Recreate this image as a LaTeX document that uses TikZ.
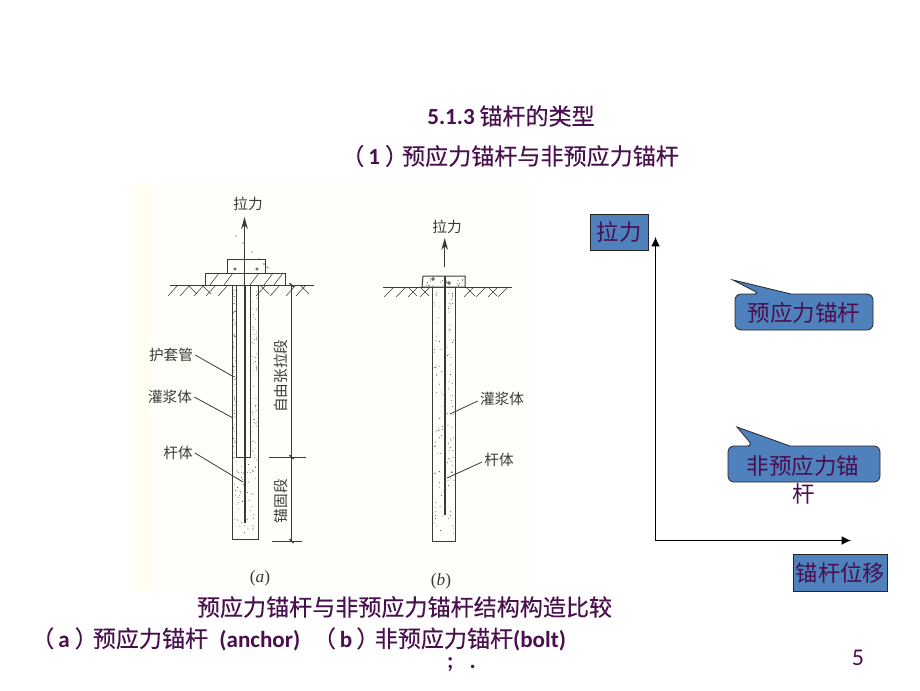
\documentclass[tikz,border=0pt]{standalone}
\usepackage{fontspec}
\setmainfont{Carlito}
\newfontfamily\cjk{Noto Sans CJK SC}
\newfontfamily\cjkb[FakeBold=0.25]{Noto Sans CJK SC}
\newfontfamily\latser{Liberation Serif}
\usetikzlibrary{arrows.meta}
\definecolor{ttl}{HTML}{4A0F4E}
\definecolor{boxb}{HTML}{4F81BD}
\definecolor{ink}{HTML}{3A3A3A}
\definecolor{paper}{HTML}{FFFEF9}
\newcommand{\bigf}{\fontsize{17.3}{20}\selectfont}
\newcommand{\smf}{\fontsize{11}{13}\selectfont\cjk}
\newcommand{\Zh}[1]{{\normalfont\cjkb #1}}
\newcommand{\La}[1]{{\normalfont\bfseries #1}}
\newcommand{\Hs}[1]{\hspace{#1pt}}
\tikzset{
 ttltext/.style={inner sep=0,text=ttl,font=\bigf},
 lbl/.style={inner sep=0,text=ink,font=\smf},
 inkline/.style={draw=ink,line width=.75pt},
 leader/.style={draw=ink,line width=.6pt},
 bluebox/.style={draw=black!85,fill=boxb,line width=.6pt,text=ttl,inner sep=0,font=\fontsize{16.7}{20}\selectfont\cjk},
 callout/.style={draw=black!85,fill=boxb,line width=.6pt,rounded corners=4.5},
 ctext/.style={inner sep=0,text=ttl,font=\fontsize{16.9}{20}\selectfont\cjk},
 axisl/.style={draw=black,line width=.8pt,-{Latex[length=7,width=6.5]}},
 rod/.style={draw=ink,line width=1.5pt},
 hatchl/.style={draw=ink,line width=.4pt},
 spot/.style={fill=ink,draw=none},
 figtag/.style={inner sep=0,text=ink,font=\fontsize{13}{15}\selectfont\latser},
}
\begin{document}
\begin{tikzpicture}[x=.75pt,y=-.75pt]
\useasboundingbox[fill=white] (0,0) rectangle (920,690);
\fill[paper] (134,183) rectangle (530,591);
\fill[yellow!6] (134,183) rectangle (150,591);
% titles
\node[ttltext] (t1) at (511,116) {\La{5.1.3}\Hs{3.5}\Zh{锚杆的类型}};
\node[ttltext,anchor=west] (t2) at (341,156) {\Zh{（}\Hs{3}\La{1}\Hs{3.75}\Zh{）}\Hs{-4.5}\Zh{预应力锚杆与非预应力锚杆}};
\node[ttltext] (t3) at (404.5,607) {\Zh{预应力锚杆与非预应力锚杆结构构造比较}};
\node[ttltext,anchor=west] (t4) at (31,639) {\Zh{（}\Hs{3}\La{a}\Hs{3.75}\Zh{）}\Hs{-3.75}\Zh{预应力锚杆}\Hs{8.5}\La{(anchor)}\Hs{9.5}\Zh{（}\Hs{3}\La{b}\Hs{3}\Zh{）}\Hs{-3.5}\Zh{非预应力锚杆}\La{(bolt)}};
\node[ttltext] (t5) at (461.5,665) {\La{;}\Hs{12}\La{.}};
\node[inner sep=0,text=ttl,font=\fontsize{18}{20}\selectfont] (pg) at (858,658) {5};

% ---------- figure (a)
\coordinate (aTop) at (244.5,217);
\coordinate (aBot) at (244.5,523);
\draw[inkline] (227,259) rectangle (265,273);
\draw[inkline] (205,273) rectangle (285.5,285);
\foreach \x in {210,224,250,264,274}
  \draw[hatchl] (\x,285) -- (\x+9,273);
\draw[inkline] (170,285) -- (314,285);
\foreach \x in {178,190,204,216,228,266,280,296,306}
  \draw[hatchl] (\x,285) -- (\x-10,296);
\foreach \x in {188,202,260,300}
  \draw[hatchl] (\x,285) -- (\x+9,294);
\draw[inkline] (232,285) -- (232,539) -- (258,539) -- (258,285);
\draw[inkline] (236,285) -- (236,457) -- (250,457) -- (250,285);
\draw[draw=ink,line width=.7pt,-{Stealth[length=9,width=5]}] (244.5,285) -- (aTop);
\draw[rod] (244.5,285) -- (aBot);
\foreach \x/\y in {236,264,243,267,252,264,259,268} \fill[spot] (\x,\y) circle (.6);
\draw[ink,line width=.4pt] (235,269) circle (1.2) (257,269) circle (1.2);
% dots a
\pgfmathsetseed{7}
\foreach \i in {1,...,60}{\pgfmathsetmacro\yy{rnd*170+290}\fill[spot] ({233+rnd*2.5},\yy) circle (.45);\pgfmathsetmacro\yb{rnd*170+290}\fill[spot] ({252+rnd*5},\yb) circle (.4);}
\foreach \i in {1,...,55}{\pgfmathsetmacro\yy{rnd*75+461}\fill[spot] ({234+rnd*22},\yy) circle (.45);}
% dims a
\draw[inkline,line width=.6pt] (291.5,285) -- (291.5,541);
\draw[inkline,line width=.6pt] (269,457) -- (306,457);
\draw[inkline,line width=.6pt] (272,541) -- (302,541);
\foreach \y in {285,457,541} \draw[ink,line width=1pt] (289.5,\y-2) -- (293.5,\y+2);
\node[lbl,rotate=90] (zy) at (281,376) {自由张拉段};
\node[lbl,rotate=90] (mg) at (281,501) {锚固段};
\node[lbl] (af) at (248,204) {拉力};
\node[lbl] (ah) at (171,355) {护套管};
\node[lbl] (ag) at (170,397) {灌浆体};
\node[lbl] (ar) at (178,453) {杆体};
\coordinate (ahe) at (234,377);
\coordinate (age) at (233,418);
\coordinate (are) at (243,482);
\draw[leader] (ah.east) ++(2,0) -- (ahe);
\draw[leader] (ag.east) ++(2,0) -- (age);
\draw[leader] (ar.east) ++(2,0) -- (are);
\node[figtag] (la) at (260,578) {(\textit{a})};

% ---------- figure (b)
\coordinate (bTop) at (444.7,238);
\coordinate (bBot) at (444.7,515);
\draw[inkline] (383,287) -- (512,287);
\foreach \x in {394,406,418,430,474,486,498,508}
  \draw[hatchl] (\x,287) -- (\x-10,297);
\foreach \x in {408,420,466,488}
  \draw[hatchl] (\x,287) -- (\x+9,296);
\draw[inkline,fill=paper] (422,287) -- (423,276) -- (465,276) -- (465,287) -- cycle;
\draw[inkline] (432,287) -- (432,541) -- (455,541) -- (455,287);
\draw[rod] (444.7,276) -- (bBot);
\draw[draw=ink,line width=.7pt,-{Stealth[length=9,width=5]}] (444.7,267) -- (bTop);
\pgfmathsetseed{11}
\foreach \i in {1,...,60}{\pgfmathsetmacro\yy{rnd*245+292}\fill[spot] ({434+rnd*9},\yy) circle (.45);\pgfmathsetmacro\yb{rnd*245+292}\fill[spot] ({447+rnd*7},\yb) circle (.45);}
\foreach \i in {1,...,18}{\pgfmathsetmacro\yy{rnd*8+278}\fill[spot] ({425+rnd*38},\yy) circle (.5);}
\draw[ink,line width=.5pt] (433,279) circle (1.3) (449,283) circle (1.3);
\node[lbl] (bf) at (447,227) {拉力};
\node[lbl] (bg) at (502,399) {灌浆体};
\node[lbl] (br) at (499,460) {杆体};
\coordinate (bge) at (450,414);
\coordinate (bre) at (447,478);
\draw[leader] (bg.west) ++(-2,2) -- (bge);
\draw[leader] (br.west) ++(-2,2) -- (bre);
\node[figtag] (lb) at (441,581) {(\textit{b})};

% ---------- chart
\coordinate (org) at (655.5,540.5);
\coordinate (yend) at (655.5,237);
\coordinate (xend) at (851,540.5);
\draw[axisl] (org) -- (yend);
\draw[axisl] (org) -- (xend);
\node[bluebox,minimum width=43.5,minimum height=27] (fbox) at (619,232) {拉力};
\node[bluebox,minimum width=71,minimum height=27.5] (dbox) at (840.5,573) {锚杆位移};
\draw[callout] (735,312) -- (735,294) -- (760,294) [sharp corners] -- (733,280) -- (791,294) [rounded corners=4.5] -- (873,294) -- (873,330) -- (735,330) -- cycle;
\node[ctext] (c1) at (804,313) {预应力锚杆};
\draw[callout] (728,464) -- (728,446) -- (753,446) [sharp corners] -- (737,427) -- (790,446) [rounded corners=4.5] -- (880,446) -- (880,482) -- (728,482) -- cycle;
\node[ctext] (c2) at (803,466) {非预应力锚};
\node[ctext] (c3) at (804,494) {杆};
\end{tikzpicture}
\end{document}
